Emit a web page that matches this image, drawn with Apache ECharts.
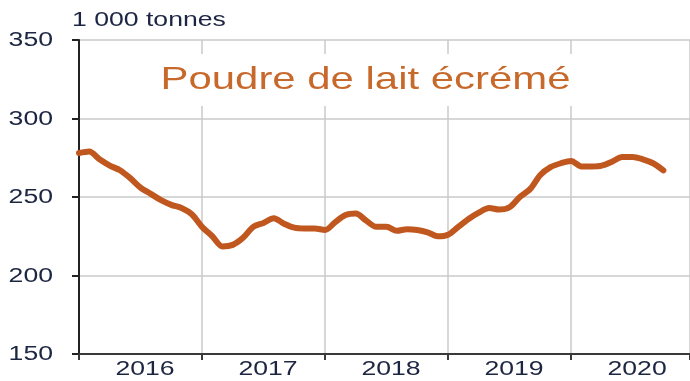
<!DOCTYPE html>
<html>
<head>
<meta charset="utf-8">
<script src="https://cdn.jsdelivr.net/npm/echarts@6/dist/echarts.min.js"></script>
<style>
  html, body { margin: 0; padding: 0; background: #fff; }
  #chart { width: 690px; height: 381px; }
</style>
</head>
<body>
<div id="chart"></div>
<script>
// Skimmed milk powder stocks, monthly, thousand tonnes (Jan 2016 onwards)
const months = [
  '2016-01','2016-02','2016-03','2016-04','2016-05','2016-06','2016-07','2016-08','2016-09','2016-10','2016-11','2016-12',
  '2017-01','2017-02','2017-03','2017-04','2017-05','2017-06','2017-07','2017-08','2017-09','2017-10','2017-11','2017-12',
  '2018-01','2018-02','2018-03','2018-04','2018-05','2018-06','2018-07','2018-08','2018-09','2018-10','2018-11','2018-12',
  '2019-01','2019-02','2019-03','2019-04','2019-05','2019-06','2019-07','2019-08','2019-09','2019-10','2019-11','2019-12',
  '2020-01','2020-02','2020-03','2020-04','2020-05','2020-06','2020-07','2020-08','2020-09','2020-10'
];
const stocks = [
  278, 279, 274, 270, 267, 262, 256, 252, 248, 245, 243, 239,
  231, 225, 218.5, 219.5, 224, 231, 233.5, 236.5, 233, 230.5, 230, 230,
  229, 234, 238.5, 239.5, 235, 231, 231, 228.5, 229.5, 229, 227.5, 225,
  226, 231, 236, 240, 243, 242, 243.5, 250, 255, 264, 269, 271.5,
  273, 269.5, 269.5, 270, 272.5, 275.5, 275.5, 274, 271.5, 267
];
const years = ['2016', '2017', '2018', '2019', '2020'];
const yTicks = [150, 200, 250, 300, 350];

const title = 'Poudre de lait écrémé';
const unit = '1 000 tonnes';

const ink = '#1c2541';
const font = '"Liberation Sans", Arial, sans-serif';
const lineColor = '#c0571f';
const titleColor = '#c8692c';
const wide = 1.33;           // horizontal stretch of all lettering

const chart = echarts.init(document.getElementById('chart'), null, { renderer: 'canvas' });

const points = stocks.map((v, i) => [i, v]);
const xMax = 59.6;

chart.setOption({
  animation: false,
  backgroundColor: '#fff',
  grid: { left: 79, right: 0, top: 40, bottom: 27, outerBoundsMode: 'none', containLabel: false },
  xAxis: {
    type: 'value', min: 0, max: xMax, interval: 12,
    axisLine: { show: true, onZero: false, lineStyle: { color: '#3a3a3a', width: 2 } },
    axisTick: { show: true, length: 6, lineStyle: { color: '#3a3a3a', width: 2 } },
    axisLabel: { show: false },
    splitLine: { show: true, lineStyle: { color: '#cacaca', width: 1.5 } }
  },
  yAxis: {
    type: 'value', min: yTicks[0], max: yTicks[yTicks.length - 1], interval: 50,
    axisLine: { show: true, lineStyle: { color: '#222', width: 2 } },
    axisTick: { show: true, length: 7, lineStyle: { color: '#222', width: 2 } },
    axisLabel: { show: false },
    splitLine: { show: true, lineStyle: { color: '#cacaca', width: 1.5 } }
  },
  series: [{
    type: 'line', data: points,
    showSymbol: false, smooth: 0.3,
    lineStyle: { color: lineColor, width: 6, cap: 'round', join: 'round' },
    z: 5
  }]
});

// Lettering: stretched text placed through the axes' own pixel mapping
const toPx = (m, v) => chart.convertToPixel({ xAxisIndex: 0, yAxisIndex: 0 }, [m, v]);
const labels = [];

yTicks.forEach(v => {
  const p = toPx(0, v);
  labels.push({
    type: 'text', x: p[0] - 26, y: p[1] + 0.5, scaleX: wide, z: 10,
    style: { text: String(v), fontSize: 20, fill: ink, fontFamily: font, align: 'right', verticalAlign: 'middle' }
  });
});

years.forEach((y, i) => {
  const p = toPx(i * 12 + 6, yTicks[0]);
  labels.push({
    type: 'text', x: p[0] + 4.5, y: p[1] + 15, scaleX: wide, z: 10,
    style: { text: y, fontSize: 20, fill: ink, fontFamily: font, align: 'center', verticalAlign: 'middle' }
  });
});

const axisTop = toPx(0, yTicks[yTicks.length - 1]);
labels.push({
  type: 'text', x: axisTop[0] - 7, y: 20, scaleX: wide, z: 10,
  style: { text: unit, fontSize: 20, fill: ink, fontFamily: font, align: 'left', verticalAlign: 'middle' }
});

labels.push({
  type: 'text', x: 365.5, y: 80, scaleX: wide, z: 10,
  style: {
    text: title, fontSize: 31.5, fill: titleColor, fontFamily: font,
    align: 'center', verticalAlign: 'middle',
    backgroundColor: '#fff', padding: [10, 4]
  }
});

chart.setOption({ graphic: labels });
</script>
</body>
</html>
